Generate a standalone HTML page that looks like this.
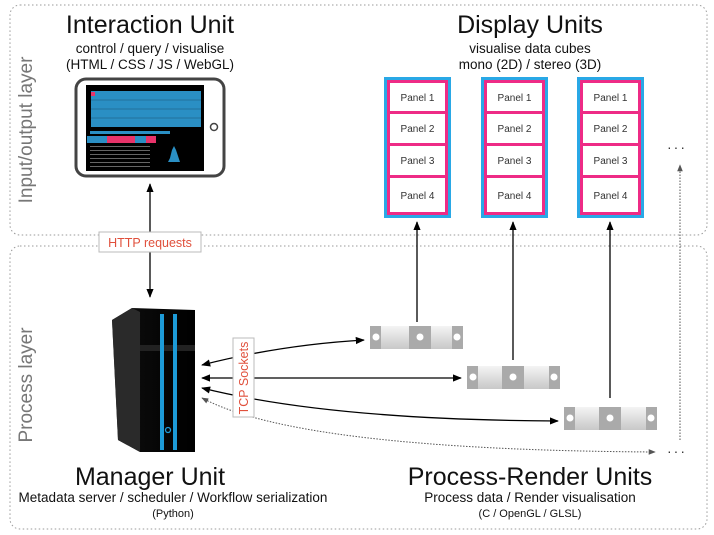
<!DOCTYPE html>
<html><head><meta charset="utf-8"><style>
html,body{margin:0;padding:0;background:#fff;}
svg{display:block;font-family:"Liberation Sans",sans-serif;}
</style></head><body>
<svg width="714" height="535" viewBox="0 0 714 535" xmlns="http://www.w3.org/2000/svg">
<defs>
<marker id="ah" viewBox="0 0 10 10" refX="9" refY="5" markerWidth="7" markerHeight="7" orient="auto-start-reverse"><path d="M0,1 L10,5 L0,9 Z" fill="#000"/></marker>
<marker id="ahg" viewBox="0 0 10 10" refX="9" refY="5" markerWidth="7" markerHeight="7" orient="auto-start-reverse"><path d="M0,1 L10,5 L0,9 Z" fill="#555"/></marker>
<linearGradient id="ru" x1="0" y1="0" x2="0" y2="1"><stop offset="0" stop-color="#f4f4f4"/><stop offset="1" stop-color="#c8c8c8"/></linearGradient>
<linearGradient id="srv" x1="0" y1="0" x2="1" y2="0"><stop offset="0" stop-color="#333"/><stop offset="0.3" stop-color="#0a0a0a"/><stop offset="1" stop-color="#000"/></linearGradient>
</defs>
<rect x="10" y="5" width="697" height="230" rx="10" fill="none" stroke="#999" stroke-width="1" stroke-dasharray="1.5,2.5"/>
<rect x="10" y="246" width="697" height="283" rx="10" fill="none" stroke="#999" stroke-width="1" stroke-dasharray="1.5,2.5"/>
<text transform="translate(32,130) rotate(-90)" text-anchor="middle" font-size="19" fill="#777">Input/output layer</text>
<text transform="translate(32,385) rotate(-90)" text-anchor="middle" font-size="19" fill="#777">Process layer</text>

<text x="150" y="33" text-anchor="middle" font-size="25" fill="#111">Interaction Unit</text>
<text x="150" y="53" text-anchor="middle" font-size="13.5" fill="#111">control / query / visualise</text>
<text x="150" y="69" text-anchor="middle" font-size="13.5" fill="#111">(HTML / CSS / JS / WebGL)</text>
<text x="530" y="33" text-anchor="middle" font-size="25" fill="#111">Display Units</text>
<text x="530" y="53" text-anchor="middle" font-size="13.5" fill="#111">visualise data cubes</text>
<text x="530" y="69" text-anchor="middle" font-size="13.5" fill="#111">mono (2D) / stereo (3D)</text>

<rect x="76" y="79" width="148" height="97" rx="10" fill="#fff" stroke="#444" stroke-width="3"/>
<circle cx="214" cy="127" r="3.5" fill="none" stroke="#444" stroke-width="1.5"/>
<rect x="86" y="85" width="118" height="86" fill="#000"/>
<rect x="91" y="91" width="110" height="36" fill="#2a8fc4"/>
<rect x="91" y="92" width="4" height="4" fill="#e8336a"/>
<g stroke="#000" stroke-width="0.4" opacity="0.5">
<path d="M91,100H201M91,109H201M91,118H201"/>
</g>
<rect x="90" y="131" width="80" height="3" fill="#2a8fc4"/>
<rect x="87" y="136" width="20" height="7" fill="#2a8fc4"/><rect x="107" y="136" width="28" height="7" fill="#e8336a"/><rect x="135" y="136" width="11" height="7" fill="#2a8fc4"/><rect x="146" y="136" width="10" height="7" fill="#e8336a"/>
<g fill="#666"><rect x="90" y="146" width="60" height="1"/><rect x="90" y="150" width="60" height="1"/><rect x="90" y="154" width="60" height="1"/><rect x="90" y="158" width="60" height="1"/><rect x="90" y="162" width="60" height="1"/><rect x="90" y="166" width="60" height="1"/></g>
<path d="M168,162 L170,158 L172,150 L174,146 L176,150 L178,156 L180,162 Z" fill="#2a8fc4"/>

<g font-size="10" fill="#333" text-anchor="middle">
<g transform="translate(384,77)">
<rect x="0" y="0" width="67" height="141" fill="#29a8e6"/>
<rect x="3" y="3" width="61" height="135" fill="#ee2b86"/>
<rect x="6" y="6" width="55" height="28" fill="#fff"/><rect x="6" y="37" width="55" height="29" fill="#fff"/><rect x="6" y="69" width="55" height="29" fill="#fff"/><rect x="6" y="101" width="55" height="34" fill="#fff"/>
<text x="33.5" y="24">Panel 1</text><text x="33.5" y="55">Panel 2</text><text x="33.5" y="87">Panel 3</text><text x="33.5" y="122">Panel 4</text>
</g>
<g transform="translate(481,77)">
<rect x="0" y="0" width="67" height="141" fill="#29a8e6"/>
<rect x="3" y="3" width="61" height="135" fill="#ee2b86"/>
<rect x="6" y="6" width="55" height="28" fill="#fff"/><rect x="6" y="37" width="55" height="29" fill="#fff"/><rect x="6" y="69" width="55" height="29" fill="#fff"/><rect x="6" y="101" width="55" height="34" fill="#fff"/>
<text x="33.5" y="24">Panel 1</text><text x="33.5" y="55">Panel 2</text><text x="33.5" y="87">Panel 3</text><text x="33.5" y="122">Panel 4</text>
</g>
<g transform="translate(577,77)">
<rect x="0" y="0" width="67" height="141" fill="#29a8e6"/>
<rect x="3" y="3" width="61" height="135" fill="#ee2b86"/>
<rect x="6" y="6" width="55" height="28" fill="#fff"/><rect x="6" y="37" width="55" height="29" fill="#fff"/><rect x="6" y="69" width="55" height="29" fill="#fff"/><rect x="6" y="101" width="55" height="34" fill="#fff"/>
<text x="33.5" y="24">Panel 1</text><text x="33.5" y="55">Panel 2</text><text x="33.5" y="87">Panel 3</text><text x="33.5" y="122">Panel 4</text>
</g>
</g>
<text x="677" y="152" text-anchor="middle" font-size="14" fill="#333" letter-spacing="2">···</text>
<text x="677" y="456" text-anchor="middle" font-size="14" fill="#333" letter-spacing="2">···</text>

<line x1="150" y1="184" x2="150" y2="297" stroke="#000" stroke-width="1.3" marker-start="url(#ah)" marker-end="url(#ah)"/>
<line x1="417" y1="322" x2="417" y2="222" stroke="#000" stroke-width="1.3" marker-end="url(#ah)"/>
<line x1="513" y1="360" x2="513" y2="222" stroke="#000" stroke-width="1.3" marker-end="url(#ah)"/>
<line x1="610" y1="398" x2="610" y2="222" stroke="#000" stroke-width="1.3" marker-end="url(#ah)"/>
<line x1="680" y1="440" x2="680" y2="165" stroke="#555" stroke-width="1" stroke-dasharray="1.5,1.5" marker-end="url(#ahg)"/>

<rect x="99" y="232" width="102" height="20" fill="#fff" stroke="#bbb"/>
<text x="150" y="247" text-anchor="middle" font-size="12.5" fill="#e0503c">HTTP requests</text>

<polygon points="112,320 132,308 195,310 195,452 140,452 118,440" fill="url(#srv)"/>
<polygon points="112,320 132,308 140,312 140,452 118,440" fill="#2a2a2a"/>
<rect x="140" y="345" width="55" height="6" fill="#222"/>
<rect x="160" y="314" width="4" height="136" fill="#1d9bd8"/>
<rect x="173" y="314" width="4" height="136" fill="#1d9bd8"/>
<circle cx="168" cy="430" r="2.5" fill="none" stroke="#1d9bd8" stroke-width="1.3"/>

<g>
<g transform="translate(370,326)">
<rect x="0" y="0" width="93" height="23" fill="url(#ru)"/>
<rect x="0" y="0" width="11" height="23" fill="#aaa"/><rect x="39" y="0" width="22" height="23" fill="#aaa"/><rect x="82" y="0" width="11" height="23" fill="#aaa"/>
<circle cx="6" cy="11" r="3.5" fill="#fff"/><circle cx="50" cy="11" r="3.5" fill="#fff"/><circle cx="87" cy="11" r="3.5" fill="#fff"/>
</g>
<g transform="translate(467,366)">
<rect x="0" y="0" width="93" height="23" fill="url(#ru)"/>
<rect x="0" y="0" width="11" height="23" fill="#aaa"/><rect x="35" y="0" width="22" height="23" fill="#aaa"/><rect x="82" y="0" width="11" height="23" fill="#aaa"/>
<circle cx="6" cy="11" r="3.5" fill="#fff"/><circle cx="46" cy="11" r="3.5" fill="#fff"/><circle cx="87" cy="11" r="3.5" fill="#fff"/>
</g>
<g transform="translate(564,407)">
<rect x="0" y="0" width="93" height="23" fill="url(#ru)"/>
<rect x="0" y="0" width="11" height="23" fill="#aaa"/><rect x="35" y="0" width="22" height="23" fill="#aaa"/><rect x="82" y="0" width="11" height="23" fill="#aaa"/>
<circle cx="6" cy="11" r="3.5" fill="#fff"/><circle cx="46" cy="11" r="3.5" fill="#fff"/><circle cx="87" cy="11" r="3.5" fill="#fff"/>
</g>
</g>

<path d="M202,365 Q280,345 364,340" fill="none" stroke="#000" stroke-width="1.3" marker-start="url(#ah)" marker-end="url(#ah)"/>
<line x1="202" y1="378" x2="461" y2="378" stroke="#000" stroke-width="1.3" marker-start="url(#ah)" marker-end="url(#ah)"/>
<path d="M202,388 Q330,420 558,421" fill="none" stroke="#000" stroke-width="1.3" marker-start="url(#ah)" marker-end="url(#ah)"/>
<path d="M202,398 Q300,450 655,452" fill="none" stroke="#555" stroke-width="1" stroke-dasharray="1.5,1.5" marker-start="url(#ahg)" marker-end="url(#ahg)"/>
<rect x="233" y="338" width="21" height="79" fill="#fff" stroke="#bbb"/>
<text transform="translate(248,378) rotate(-90)" text-anchor="middle" font-size="12.5" fill="#e0503c">TCP Sockets</text>

<text x="150" y="485" text-anchor="middle" font-size="25" fill="#111">Manager Unit</text>
<text x="173" y="502" text-anchor="middle" font-size="13.5" fill="#111">Metadata server / scheduler / Workflow serialization</text>
<text x="173" y="517" text-anchor="middle" font-size="11" fill="#111">(Python)</text>
<text x="530" y="485" text-anchor="middle" font-size="25" fill="#111">Process-Render Units</text>
<text x="530" y="502" text-anchor="middle" font-size="13.5" fill="#111">Process data / Render visualisation</text>
<text x="530" y="517" text-anchor="middle" font-size="11" fill="#111">(C / OpenGL / GLSL)</text>
</svg>
</body></html>
